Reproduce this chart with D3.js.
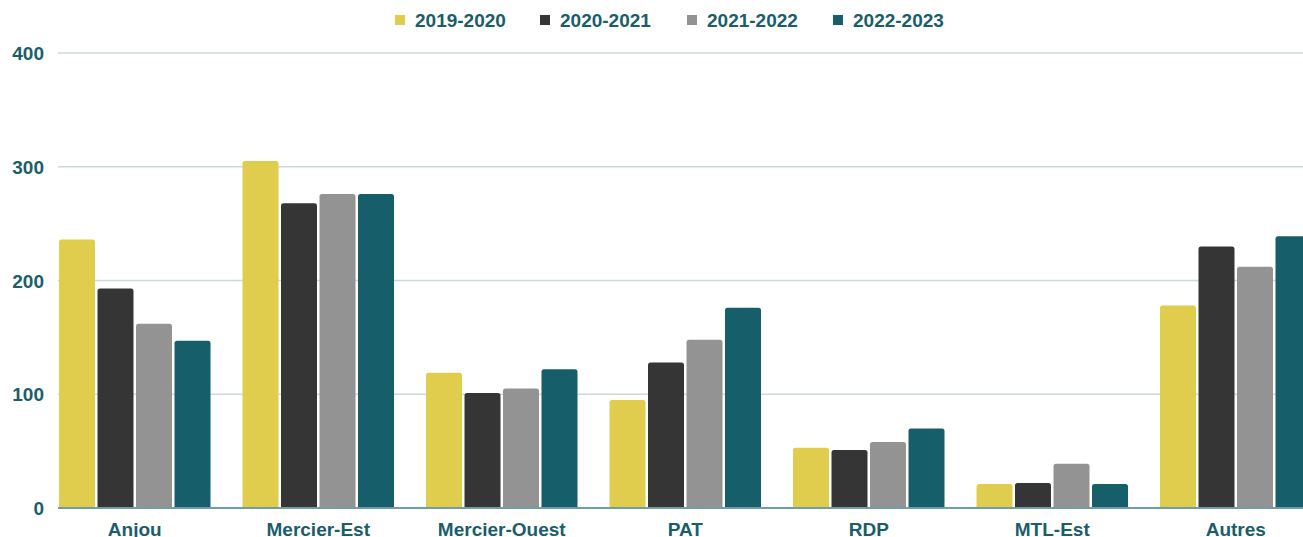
<!DOCTYPE html>
<html>
<head>
<meta charset="utf-8">
<script src="https://cdn.jsdelivr.net/npm/d3@7"></script>
<style>
  html, body { margin: 0; padding: 0; background: #ffffff; }
  svg { display: block; font-family: "Liberation Sans", Arial, sans-serif; }
</style>
</head>
<body>
<div id="chart"></div>
<script>
// Chart data
const categories = ["Anjou", "Mercier-Est", "Mercier-Ouest", "PAT", "RDP", "MTL-Est", "Autres"];
const seasons = ["2019-2020", "2020-2021", "2021-2022", "2022-2023"];
const values2019 = [236, 305, 119, 95, 53, 21, 178];
const values2020 = [193, 268, 101, 128, 51, 22, 230];
const values2021 = [162, 276, 105, 148, 58, 39, 212];
const values2022 = [147, 276, 122, 176, 70, 21, 239];
const yTicks = [0, 100, 200, 300, 400];

const seriesValues = [values2019, values2020, values2021, values2022];

const config = {
  width: 1303,
  height: 537,
  plotLeft: 58,
  plotTop: 53,
  plotBottom: 508,
  step: 183.5,
  colors: ["#e0cd4e", "#353535", "#939393", "#165e69"],
  text: "#1a5e6b",
  grid: "#c9d9dc",
  axis: "#6f9ea6",
  fontSize: "19px"
};

const svg = d3.select("#chart").append("svg")
  .attr("width", config.width)
  .attr("height", config.height);

// Scales
const x0 = d3.scaleBand()
  .domain(categories)
  .range([43, 43 + config.step * categories.length])
  .paddingInner(32 / config.step)
  .paddingOuter(16 / config.step);

const x1 = d3.scaleBand()
  .domain(seasons)
  .range([0, x0.bandwidth()])
  .paddingInner(0.065);

const y = d3.scaleLinear()
  .domain([0, 400])
  .range([config.plotBottom, config.plotTop]);

// Grid lines
svg.append("g")
  .attr("class", "grid")
  .selectAll("line")
  .data(yTicks.filter(d => d > 0))
  .join("line")
  .attr("x1", config.plotLeft)
  .attr("x2", config.width)
  .attr("y1", d => y(d))
  .attr("y2", d => y(d))
  .attr("stroke", config.grid)
  .attr("stroke-width", 1.3);

// Y axis labels
const yAxis = svg.append("g")
  .attr("transform", `translate(${config.plotLeft - 14},0)`)
  .call(d3.axisLeft(y).tickValues(yTicks).tickSize(0).tickPadding(0));
yAxis.select(".domain").remove();
yAxis.selectAll("text")
  .attr("fill", config.text)
  .style("font-size", config.fontSize)
  .style("font-weight", "bold")
  .attr("dy", "0.35em");

// Bars with rounded top corners
function barPath(x, w, yTop, yBot, r) {
  r = Math.min(r, (yBot - yTop) / 2, w / 2);
  return `M${x},${yBot}V${yTop + r}Q${x},${yTop} ${x + r},${yTop}H${x + w - r}Q${x + w},${yTop} ${x + w},${yTop + r}V${yBot}Z`;
}

const barData = [];
categories.forEach((c, i) => {
  seasons.forEach((s, j) => {
    barData.push({ category: c, season: s, value: seriesValues[j][i], idx: j });
  });
});

svg.append("g")
  .attr("class", "bars")
  .selectAll("path")
  .data(barData)
  .join("path")
  .attr("d", d => barPath(x0(d.category) + x1(d.season), x1.bandwidth(), y(d.value), y(0), 2.5))
  .attr("fill", d => config.colors[d.idx]);

// Baseline
svg.append("line")
  .attr("x1", config.plotLeft)
  .attr("x2", config.width)
  .attr("y1", y(0))
  .attr("y2", y(0))
  .attr("stroke", config.axis)
  .attr("stroke-width", 2);

// X axis labels (bottom edge crops them, as in the original)
const xAxis = svg.append("g")
  .attr("transform", `translate(0,${y(0)})`)
  .call(d3.axisBottom(x0).tickSize(0).tickPadding(0));
xAxis.select(".domain").remove();
xAxis.selectAll("text")
  .attr("fill", config.text)
  .attr("y", 28)
  .attr("dy", 0)
  .style("font-size", config.fontSize)
  .style("font-weight", "bold");

// Legend
const legendX = [395, 540, 687, 833];
const legend = svg.append("g").attr("class", "legend");
seasons.forEach((s, i) => {
  const row = legend.append("g").attr("transform", `translate(${legendX[i]},20)`);
  row.append("rect")
    .attr("x", 0)
    .attr("y", -5)
    .attr("width", 10)
    .attr("height", 10)
    .attr("fill", config.colors[i]);
  row.append("text")
    .attr("x", 20)
    .attr("y", 0)
    .attr("dy", "0.35em")
    .attr("fill", config.text)
    .style("font-size", config.fontSize)
    .style("font-weight", "bold")
    .text(s);
});
</script>
</body>
</html>
